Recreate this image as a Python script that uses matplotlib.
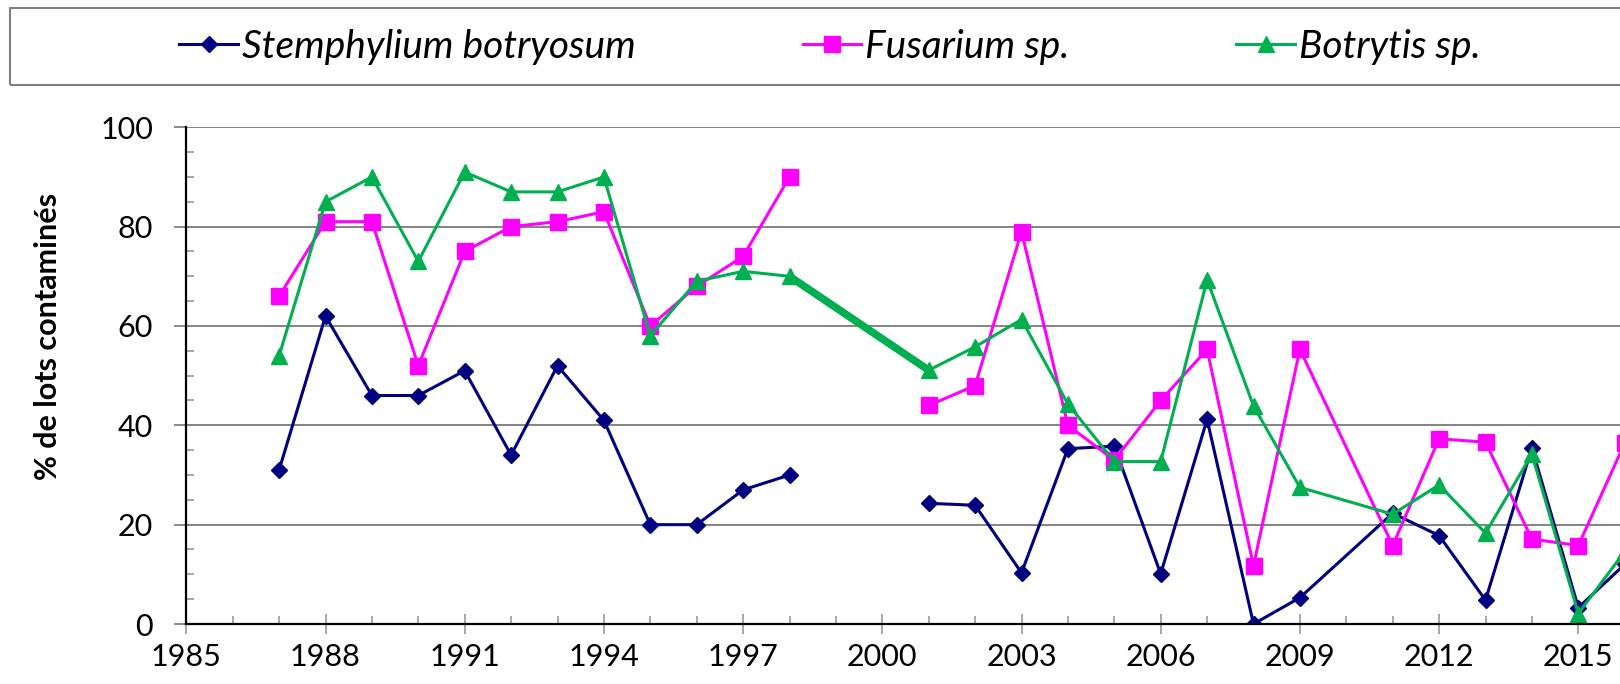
import numpy as np
import matplotlib
matplotlib.use("Agg")
import matplotlib.pyplot as plt
from matplotlib.lines import Line2D
from matplotlib.patches import Rectangle
from matplotlib.ticker import MultipleLocator

plt.rcParams["font.family"] = ["Lato", "DejaVu Sans"]

nan = np.nan
years = [1987, 1988, 1989, 1990, 1991, 1992, 1993, 1994, 1995, 1996, 1997,
         1998, 1999, 2000, 2001, 2002, 2003, 2004, 2005, 2006, 2007, 2008,
         2009, 2011, 2012, 2013, 2014, 2015, 2016]
stemphylium = [31, 62, 46, 46, 51, 34, 52, 41, 20, 20, 27,
               30, nan, nan, 24.3, 23.9, 10.3, 35.3, 35.8, 10.1, 41.2, 0,
               5.3, 22.3, 17.8, 4.8, 35.5, 3.3, 12]
fusarium = [66, 81, 81, 52, 75, 80, 81, 83, 60, 68, 74,
            90, nan, nan, 44, 48, 79, 40, 33, 45, 55.3, 11.7,
            55.3, 15.8, 37.3, 36.6, 17.1, 15.8, 36.4]
botrytis = [54, 85, 90, 73, 91, 87, 87, 90, 58, 69, 71,
            70, nan, nan, 51.1, 55.8, 61.3, 44.3, 32.7, 32.7, 69.3, 43.9,
            27.5, 22.1, 28, 18.3, 34.2, 2.1, 14.6]
year_ticks = list(range(1985, 2016, 3))

navy = "#000080"
magenta = "#FF00FF"
green = "#00B050"

fig = plt.figure(figsize=(16.2, 6.84), dpi=100)
ax = fig.add_axes([186.3 / 1620, 60 / 684, 1 - 186.3 / 1620, (624 - 127.3) / 684])

l1, = ax.plot(years, stemphylium, color=navy, lw=2.2, marker="D", ms=8,
              label="Stemphylium botryosum", zorder=3)
l2, = ax.plot(years, fusarium, color=magenta, lw=2.2, marker="s", ms=11,
              label="Fusarium sp.", zorder=3)
l3, = ax.plot(years, botrytis, color=green, lw=2.2, marker="^", ms=11.5,
              label="Botrytis sp.", zorder=4)

# Botrytis bridges the missing years with a heavier segment
b = np.array(botrytis, dtype=float)
yr = np.array(years)
ok = np.isfinite(b)
gap = np.where(np.diff(yr[ok]) > 1)[0][0]
ax.plot(yr[ok][gap:gap + 2], b[ok][gap:gap + 2], color=green, lw=5.5,
        solid_capstyle="butt", zorder=2)

ax.set_xticks(year_ticks)
ax.xaxis.set_minor_locator(MultipleLocator(1))
ax.set_xlim(1985, 1985 + (1620 - 186.3) / 46.4)
ax.set_ylim(0, 100)
ax.yaxis.set_major_locator(MultipleLocator(20))
ax.yaxis.set_minor_locator(MultipleLocator(5))
ax.tick_params(axis="x", which="major", direction="inout", length=14,
               width=1.2, color="#999999", labelsize=22, pad=7)
ax.tick_params(axis="x", which="minor", direction="in", length=6,
               width=1.2, color="#999999")
ax.tick_params(axis="y", which="major", direction="out", length=9,
               width=1.2, color="#777777", labelsize=22, pad=15)
ax.tick_params(axis="y", which="minor", direction="in", length=6,
               width=1.2, color="#999999")
ax.grid(axis="y", which="major", color="#707070", lw=1.2)
ax.set_axisbelow(True)
for s in ("top", "right"):
    ax.spines[s].set_visible(False)
for s in ("left", "bottom"):
    ax.spines[s].set_linewidth(1.6)
    ax.spines[s].set_zorder(5)

fig.text(48 / 1620, 1 - 336 / 684, "% de lots contaminés", rotation=90,
         ha="center", va="center", fontsize=22, fontweight="bold")

# legend box across the top
fig.patches.append(Rectangle((10 / 1620, 1 - 85 / 684), 1.0, 77 / 684,
                             transform=fig.transFigure, fill=False,
                             edgecolor="#808080", lw=1.5))
handles = [Line2D([], [], color=l.get_color(), lw=2.2, marker=l.get_marker(),
                  ms=l.get_markersize()) for l in (l1, l2, l3)]
leg = fig.legend(handles, [l1.get_label(), l2.get_label(), l3.get_label()],
                 loc="center left", bbox_to_anchor=(160 / 1620, 1 - 47 / 684),
                 ncol=3, frameon=False, borderpad=0, handlelength=1.5,
                 handletextpad=0.1, columnspacing=4.3,
                 prop={"size": 28, "style": "italic"})

fig.savefig("out.png", dpi=100)
